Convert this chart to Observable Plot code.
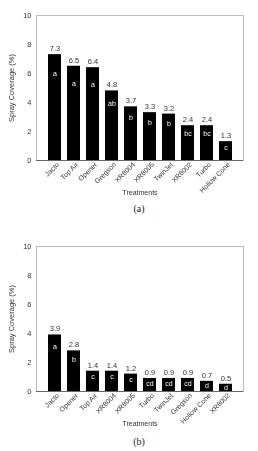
<!DOCTYPE html>
<html>
<head>
<meta charset="utf-8">
<script src="https://cdn.jsdelivr.net/npm/d3@7"></script>
<script src="https://cdn.jsdelivr.net/npm/@observablehq/plot@0.6"></script>
<style>
  html, body { margin: 0; padding: 0; background: #fff; }
  body { width: 258px; height: 451px; position: relative; overflow: hidden; }
  .panel { position: absolute; left: 0; }
  .panel svg { will-change: transform; }
  .cap { position: absolute; left: 0; width: 278px; text-align: center;
         font-family: "Liberation Serif", "DejaVu Serif", serif; font-size: 10px; color: #222; }
</style>
</head>
<body>
<div id="pa" class="panel" style="top:0px"></div>
<div class="cap" style="top:203px">(a)</div>
<div id="pb" class="panel" style="top:230px"></div>
<div class="cap" style="top:436px">(b)</div>
<script>
const treatmentsA = ["Jacto","Top Air","Opener","Gregson","XR8004","XR8005","TwinJet","XR8002","Turbo","Hollow Cone"];
const coverageA   = [7.3, 6.5, 6.4, 4.8, 3.7, 3.3, 3.2, 2.4, 2.4, 1.3];
const lettersA    = ["a","a","a","ab","b","b","b","bc","bc","c"];

const treatmentsB = ["Jacto","Opener","Top Air","XR8004","XR8005","Turbo","TwinJet","Gregson","Hollow Cone","XR8002"];
const coverageB   = [3.9, 2.8, 1.4, 1.4, 1.2, 0.9, 0.9, 0.9, 0.7, 0.5];
const lettersB    = ["a","b","c","c","c","cd","cd","cd","d","d"];

const yTicks = [0, 2, 4, 6, 8, 10];

function panel(treatments, values, letters, marginTop) {
  const data = treatments.map((t, i) => ({t, v: values[i], g: letters[i]}));
  const fmt = d3.format(".1f");
  return Plot.plot({
    width: 258,
    height: 200,
    marginLeft: 36,
    marginRight: 15,
    marginTop: marginTop,
    marginBottom: 200 - marginTop - 145,
    style: {fontFamily: "'Liberation Sans', Arial, sans-serif", fontSize: "7px", color: "#333", background: "transparent"},
    x: {domain: treatments, paddingInner: 0.32, paddingOuter: 0.44},
    y: {domain: [0, 10]},
    marks: [
      Plot.frame({stroke: "#bbb", strokeWidth: 1}),
      Plot.barY(data, {x: "t", y: "v", fill: "#000"}),
      Plot.text(data, {x: "t", y: "v", text: d => fmt(d.v), dy: -6, fill: "#333", fontSize: 7.5}),
      Plot.text(data, {x: "t", y: d => 0.85 * d.v - 0.2, text: "g", fill: "#fff", fontSize: 7}),
      Plot.ruleX([0], {frameAnchor: "left", stroke: "#666"}),
      Plot.ruleY([0], {stroke: "#666"}),
      Plot.axisY({ticks: yTicks, tickSize: 0, tickPadding: 5, fontSize: 7.5,
        label: "Spray Coverage (%)", labelAnchor: "center", labelArrow: "none", labelOffset: 28}),
      Plot.text(data, {x: "t", frameAnchor: "bottom", text: "t", rotate: -45,
        textAnchor: "end", lineAnchor: "middle", dx: 3, dy: 3, fill: "#333", fontSize: 7}),
      Plot.axisX({ticks: [], tickSize: 0,
        label: "Treatments", labelAnchor: "center", labelArrow: "none", labelOffset: 34})
    ]
  });
}

document.getElementById("pa").append(panel(treatmentsA, coverageA, lettersA, 15));
document.getElementById("pb").append(panel(treatmentsB, coverageB, lettersB, 16));
</script>
</body>
</html>
